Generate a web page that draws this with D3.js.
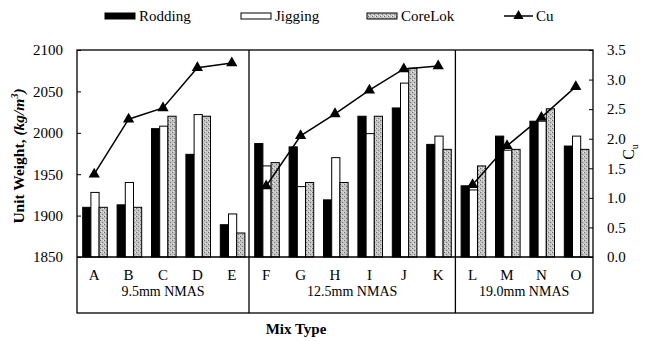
<!DOCTYPE html>
<html lang="en">
<head>
<meta charset="utf-8">
<title>Unit weight by mix type</title>
<script src="https://cdn.jsdelivr.net/npm/d3@7"></script>
<style>
  body { margin: 0; background: #fff; }
  svg text { font-family: "Liberation Serif", "DejaVu Serif", serif !important; fill: #000; }
</style>
</head>
<body>
<script>
// data
var categories = ["A","B","C","D","E","F","G","H","I","J","K","L","M","N","O"];
var groupNames = ["9.5mm NMAS", "12.5mm NMAS", "19.0mm NMAS"];
var groupSizes = [5, 6, 4];
var seriesNames = ["Rodding", "Jigging", "CoreLok"];
var rodding = [1910,1913,2005,1974,1889, 1987,1983,1919,2020,2030,1986, 1936,1996,2014,1984];
var jigging = [1928,1940,2008,2022,1902, 1960,1935,1970,1999,2060,1996, 1931,1979,2014,1996];
var corelok = [1910,1910,2020,2020,1879, 1964,1940,1940,2020,2078,1980, 1960,1980,2029,1980];
var cu      = [1.40,2.33,2.52,3.20,3.28, 1.20,2.05,2.42,2.82,3.18,3.23, 1.22,1.88,2.36,2.88];
var leftTicks = [1850,1900,1950,2000,2050,2100];
var rightTicks = [0,0.5,1,1.5,2,2.5,3,3.5];

var w = 649, h = 341;
var plotL = 77, plotR = 593, plotT = 50, plotB = 257, boxB = 313;

var svg = d3.select("body").append("svg")
  .attr("width", w).attr("height", h)
  .attr("font-family", "Liberation Serif");

// stippled fill for CoreLok
var pat = svg.append("defs").append("pattern")
  .attr("id", "stip").attr("patternUnits", "userSpaceOnUse")
  .attr("width", 4).attr("height", 4);
pat.append("rect").attr("width", 4).attr("height", 4).attr("fill", "#c2c2c2");
pat.append("rect").attr("x", 0).attr("y", 0).attr("width", 1).attr("height", 1).attr("fill", "#6e6e6e");
pat.append("rect").attr("x", 2).attr("y", 2).attr("width", 1).attr("height", 1).attr("fill", "#7a7a7a");
pat.append("rect").attr("x", 3).attr("y", 0).attr("width", 1).attr("height", 1).attr("fill", "#e6e6e6");
pat.append("rect").attr("x", 1).attr("y", 3).attr("width", 1).attr("height", 1).attr("fill", "#e6e6e6");

var fills = ["#000", "#fff", "url(#stip)"];

var x0 = d3.scaleBand().domain(categories).range([plotL, plotR]);
var bw = x0.bandwidth();
var inner = 24.6;
var x1 = d3.scaleBand().domain(seriesNames).range([0, inner]);
var y = d3.scaleLinear().domain([1850, 2100]).range([plotB, plotT]);
var y2 = d3.scaleLinear().domain([0, 3.5]).range([plotB, plotT]);

// bars
var series = [rodding, jigging, corelok];
series.forEach(function(vals, si) {
  svg.append("g").selectAll("rect")
    .data(vals)
    .enter().append("rect")
    .attr("x", function(d, i) { return x0(categories[i]) + (bw - inner) / 2 + 0.8 + x1(seriesNames[si]); })
    .attr("y", function(d) { return y(d); })
    .attr("width", x1.bandwidth())
    .attr("height", function(d) { return plotB - y(d); })
    .attr("fill", fills[si])
    .attr("stroke", "#000")
    .attr("stroke-width", 1);
});

// Cu line, one piece per group
var line = d3.line()
  .x(function(d) { return x0(categories[d]) + bw / 2; })
  .y(function(d) { return y2(cu[d]); });
var start = 0;
groupSizes.forEach(function(n) {
  var idx = d3.range(start, start + n);
  svg.append("path").datum(idx)
    .attr("d", line)
    .attr("fill", "none").attr("stroke", "#000").attr("stroke-width", 1.5);
  start += n;
});
svg.append("g").selectAll("path")
  .data(cu)
  .enter().append("path")
  .attr("d", d3.symbol(d3.symbolTriangle).size(55))
  .attr("transform", function(d, i) { return "translate(" + (x0(categories[i]) + bw / 2) + "," + y2(d) + ")"; })
  .attr("fill", "#000");

// frame and group dividers
svg.append("rect").attr("x", plotL).attr("y", plotT)
  .attr("width", plotR - plotL).attr("height", boxB - plotT)
  .attr("fill", "none").attr("stroke", "#000").attr("stroke-width", 1.3);
svg.append("line").attr("x1", plotL).attr("x2", plotR).attr("y1", plotB).attr("y2", plotB)
  .attr("stroke", "#000").attr("stroke-width", 1.3);
var cum = 0;
groupSizes.forEach(function(n, gi) {
  var gx0 = x0(categories[cum]);
  var gx1 = x0(categories[cum + n - 1]) + bw;
  if (gi > 0) {
    svg.append("line").attr("x1", gx0).attr("x2", gx0).attr("y1", plotT).attr("y2", boxB)
      .attr("stroke", "#000").attr("stroke-width", 1.3);
  }
  svg.append("text").attr("x", (gx0 + gx1) / 2).attr("y", 296)
    .attr("text-anchor", "middle").style("font-size", "14px").text(groupNames[gi]);
  cum += n;
});

// category letters
svg.append("g").selectAll("text")
  .data(categories)
  .enter().append("text")
  .attr("x", function(d) { return x0(d) + bw / 2; })
  .attr("y", 280)
  .attr("text-anchor", "middle")
  .style("font-size", "15px")
  .text(function(d) { return d; });

// left axis
var yAxis = svg.append("g").attr("transform", "translate(" + plotL + ",0)")
  .call(d3.axisLeft(y).tickValues(leftTicks).tickSize(-4).tickPadding(14).tickFormat(d3.format("d")));
yAxis.attr("font-family", null);
yAxis.select(".domain").remove();
yAxis.selectAll("text").style("font-size", "15px");
yAxis.selectAll("line").attr("stroke", "#000");

// right axis
var y2Axis = svg.append("g").attr("transform", "translate(" + plotR + ",0)")
  .call(d3.axisRight(y2).tickValues(rightTicks).tickSize(-4).tickPadding(14).tickFormat(d3.format(".1f")));
y2Axis.attr("font-family", null);
y2Axis.select(".domain").remove();
y2Axis.selectAll("text").style("font-size", "15px");
y2Axis.selectAll("line").attr("stroke", "#000");

// axis titles
var yt = svg.append("text")
  .attr("transform", "translate(24,156) rotate(-90)")
  .attr("text-anchor", "middle")
  .style("font-size", "15.5px").style("font-weight", "bold");
yt.append("tspan").text("Unit Weight, ");
yt.append("tspan").style("font-style", "italic").text("(kg/m");
yt.append("tspan").style("font-style", "italic").style("font-size", "10px").attr("dy", -6).text("3");
yt.append("tspan").style("font-style", "italic").attr("dy", 6).text(")");

var rt = svg.append("text")
  .attr("transform", "translate(634,152) rotate(-90)")
  .attr("text-anchor", "middle")
  .style("font-size", "16px");
rt.append("tspan").text("C");
rt.append("tspan").style("font-size", "10px").attr("dy", 4).text("u");

svg.append("text").attr("x", 296).attr("y", 334)
  .attr("text-anchor", "middle")
  .style("font-size", "15px").style("font-weight", "bold")
  .text("Mix Type");

// legend
var legendX = [105, 241, 367];
seriesNames.forEach(function(name, i) {
  svg.append("rect").attr("x", legendX[i]).attr("y", 13).attr("width", 30).attr("height", 6)
    .attr("fill", fills[i]).attr("stroke", "#000").attr("stroke-width", 1);
  svg.append("text").attr("x", legendX[i] + 34).attr("y", 21)
    .style("font-size", "15px").text(name);
});
svg.append("line").attr("x1", 504).attr("x2", 533).attr("y1", 16).attr("y2", 16)
  .attr("stroke", "#000").attr("stroke-width", 1.5);
svg.append("path").attr("d", d3.symbol(d3.symbolTriangle).size(45))
  .attr("transform", "translate(518.5,16)").attr("fill", "#000");
svg.append("text").attr("x", 536).attr("y", 21).style("font-size", "15px").text("Cu");
</script>
</body>
</html>
